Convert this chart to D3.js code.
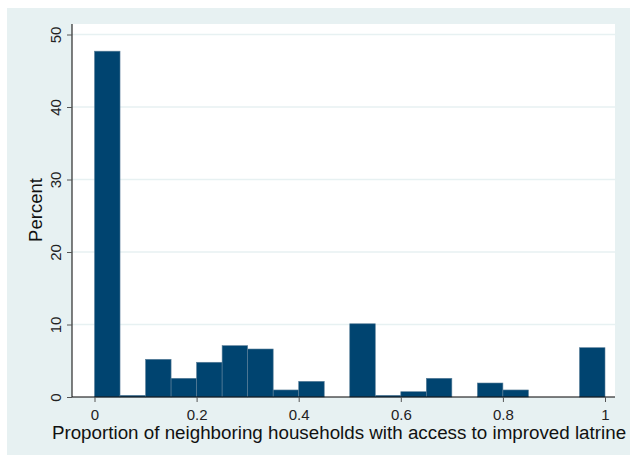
<!DOCTYPE html>
<html><head><meta charset="utf-8">
<script src="https://cdn.jsdelivr.net/npm/d3@7"></script>
<style>body{margin:0;background:#fff;}svg{display:block;font-family:"Liberation Sans",Arial,sans-serif;}</style>
</head><body>
<svg id="c" width="630" height="457"></svg>
<script>
const binStarts = [0,0.05,0.1,0.15,0.2,0.25,0.3,0.35,0.4,0.45,0.5,0.55,0.6,0.65,0.7,0.75,0.8,0.85,0.9,0.95];
const percents  = [47.7,0.23,5.2,2.58,4.79,7.08,6.62,0.97,2.16,0,10.1,0.23,0.73,2.58,0,1.93,0.97,0,0,6.8];
const binWidth = 0.05;
const xTicks = [0,0.2,0.4,0.6,0.8,1];
const yTicks = [0,10,20,30,40,50];
const xTitle = "Proportion of neighboring households with access to improved latrine";
const yTitle = "Percent";

const svg = d3.select("#c");
svg.append("rect").attr("x",7).attr("y",8).attr("width",623).attr("height",447).attr("fill","#e7f1f2");
const L=72, R=615, T=24, B=397;
svg.append("rect").attr("x",L).attr("y",T).attr("width",R-L).attr("height",B-T).attr("fill","#fff");

const x = d3.scaleLinear().domain([0,1]).range([94.5,605]);
const y = d3.scaleLinear().domain([0,50]).range([B,34.5]);

svg.append("g").selectAll("line").data(yTicks.filter(d=>d>0)).join("line")
  .attr("x1",L).attr("x2",R).attr("y1",d=>y(d)).attr("y2",d=>y(d))
  .attr("stroke","#e7f1f2").attr("stroke-width",1.5);

svg.append("g").selectAll("rect").data(binStarts.map((b,i)=>({b,v:percents[i]})).filter(d=>d.v>0)).join("rect")
  .attr("x",d=>x(d.b)).attr("width",d=>x(d.b+binWidth)-x(d.b))
  .attr("y",d=>y(d.v)).attr("height",d=>B-y(d.v))
  .attr("fill","#004470").attr("stroke","#5a7f99").attr("stroke-width",0.6);

const yAxis = d3.axisLeft(y).tickValues(yTicks).tickSize(5).tickPadding(4).tickFormat(d3.format("d"));
const gy = svg.append("g").attr("transform",`translate(${L},0)`).call(yAxis);
gy.select(".domain").attr("d",`M0,${T}V${B}`).attr("stroke","#000");
gy.selectAll(".tick line").attr("stroke","#555");
gy.selectAll(".tick text").attr("font-size",15).attr("fill","#222")
  .attr("text-anchor","middle").attr("dy",0)
  .attr("transform","translate(-11,0) rotate(-90)").attr("x",0).attr("y",0);

const xAxis = d3.axisBottom(x).tickValues(xTicks).tickSize(5).tickPadding(7).tickFormat(d=>d===0?"0":d===1?"1":d3.format(".1f")(d));
const gx = svg.append("g").attr("transform",`translate(0,${B})`).call(xAxis);
gx.select(".domain").attr("d",`M${L},0H${R}`).attr("stroke","#000");
gx.selectAll(".tick line").attr("stroke","#555");
gx.selectAll(".tick text").attr("font-size",15).attr("fill","#222");

svg.append("text").attr("x",339).attr("y",439).attr("text-anchor","middle").attr("font-size",18.8).attr("fill","#111").text(xTitle);
svg.append("text").attr("transform","translate(41.5,210) rotate(-90)").attr("text-anchor","middle").attr("font-size",18.5).attr("fill","#111").text(yTitle);
</script>
</body></html>
